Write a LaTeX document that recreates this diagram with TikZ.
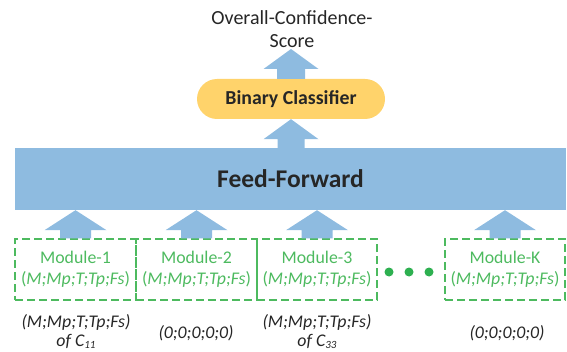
\documentclass[tikz,border=0pt]{standalone}
\usepackage{fontspec}
\setmainfont{Carlito}
\usetikzlibrary{calc}
\definecolor{ablue}{HTML}{8EBBE0}
\definecolor{pill}{HTML}{FFD36B}
\definecolor{mgreen}{HTML}{4DBA5F}
\definecolor{dgreen}{HTML}{2EB050}
\definecolor{dtext}{HTML}{262626}
\newcommand\blockarrow[5]{%
  \fill[ablue] ($(#1)+(-#3,0)$) -- ($(#2)+(-#3,-#5)$) -- ($(#2)+(-#4,-#5)$) -- (#2)
    -- ($(#2)+(#4,-#5)$) -- ($(#2)+(#3,-#5)$) -- ($(#1)+(#3,0)$) -- cycle;}
\begin{document}
\begin{tikzpicture}[x=1pt,y=1pt,
  modbox/.style={draw=mgreen, dash pattern=on 8pt off 4pt, line width=1.2pt,
    minimum width=121pt, minimum height=61pt, inner sep=0pt, text=mgreen,
    font=\fontsize{17.8}{21}\selectfont, align=center},
  lowtext/.style={text=dtext, font=\fontsize{17.8}{19}\selectfont\itshape, align=center, inner sep=0pt},
  dot/.style={circle, fill=dgreen, minimum size=9pt, inner sep=0pt}]
\useasboundingbox (0,0) rectangle (567,351);
% title
\node[text=dtext, font=\fontsize{20}{23.5}\selectfont, align=center, inner sep=0pt] (score) at (292,322) {Overall-Confidence-\\Score};
% binary classifier
\node[fill=pill, rounded corners=20pt, minimum width=188pt, minimum height=40pt, inner sep=0pt,
  text=dtext, font=\fontsize{19.8}{22}\selectfont\bfseries] (bc) at (291,252) {Binary Classifier};
% feed forward
\node[fill=ablue, minimum width=551pt, minimum height=62pt, inner sep=0pt,
  text=dtext, font=\fontsize{25.5}{28}\selectfont\bfseries] (ff) at (290.5,172) {Feed-Forward};
% modules
\node[modbox] (m1) at (75.5,81.5) {Module-1\\(\textit{M;Mp;T;Tp;Fs})};
\node[modbox] (m2) at (196.5,81.5) {Module-2\\(\textit{M;Mp;T;Tp;Fs})};
\node[modbox, minimum width=120pt] (m3) at (317,81.5) {Module-3\\(\textit{M;Mp;T;Tp;Fs})};
\node[modbox, minimum width=120pt] (mk) at (505,81.5) {Module-K\\(\textit{M;Mp;T;Tp;Fs})};
% dots
\node[dot] (d1) at (389,79) {};
\node[dot] (d2) at (409,79) {};
\node[dot] (d3) at (429,79) {};
% lower texts
\node[lowtext] (l1) at (76,19) {(M;Mp;T;Tp;Fs)\\of C\raisebox{-1.5pt}{\fontsize{11}{12}\selectfont 11}};
\node[lowtext] (l2) at (196,18) {(0;0;0;0;0)};
\node[lowtext] (l3) at (317,19) {(M;Mp;T;Tp;Fs)\\of C\raisebox{-1.5pt}{\fontsize{11}{12}\selectfont 33}};
\node[lowtext] (lk) at (507,18) {(0;0;0;0;0)};
% arrows
\coordinate (ttop) at (bc.north |- 0,302);
\blockarrow{bc.north}{ttop}{14}{27.5}{20}
\coordinate (tmid) at (bc.south);
\blockarrow{ff.north -| bc.south}{tmid}{13.5}{27.5}{20}
\coordinate (t1) at (m1.north |- ff.south);
\blockarrow{m1.north}{t1}{15.5}{31}{20}
\coordinate (t2) at (m2.north |- ff.south);
\blockarrow{m2.north}{t2}{15.5}{31}{20}
\coordinate (t3) at (m3.north |- ff.south);
\blockarrow{m3.north}{t3}{15.5}{31}{20}
\coordinate (tk) at (mk.north |- ff.south);
\blockarrow{mk.north}{tk}{15.5}{31}{20}
\end{tikzpicture}
\end{document}
